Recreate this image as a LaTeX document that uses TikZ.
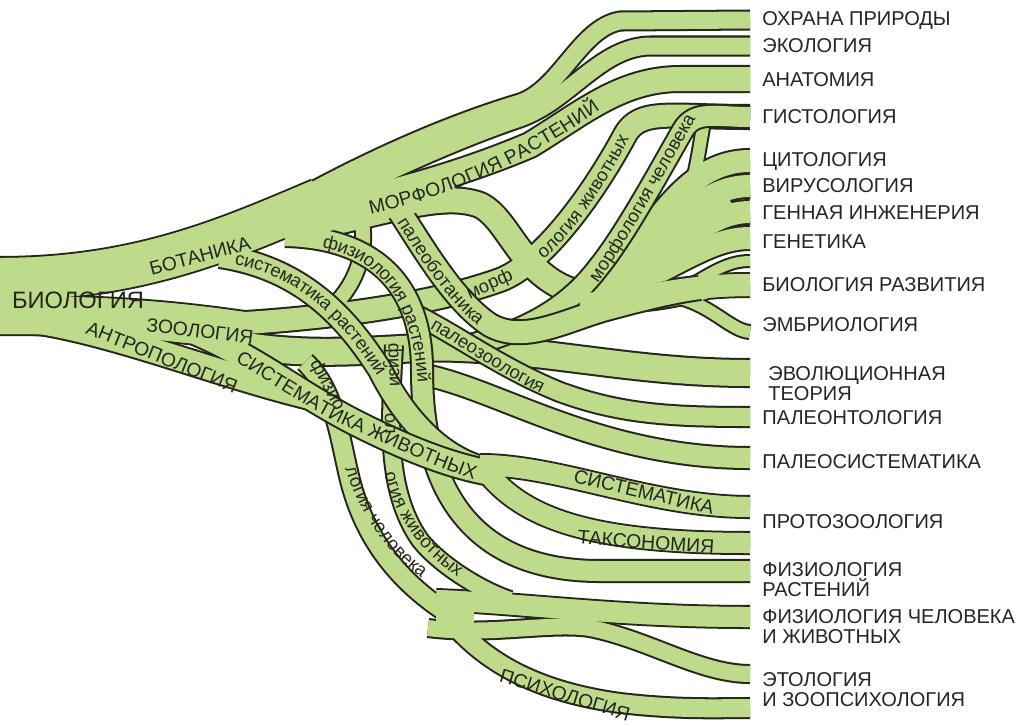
\documentclass[tikz,border=0pt]{standalone}
\usepackage{fontspec}
\setmainfont{Liberation Sans}
\usetikzlibrary{decorations.text}
\definecolor{leaf}{HTML}{BEDB8C}
\definecolor{ink}{HTML}{26261E}

\newcommand\rlab{\fontsize{11.4}{11.35}\selectfont}
\newcommand\clab{\fontsize{11}{13}\selectfont}
\newcommand\slab{\fontsize{10.5}{12}\selectfont}
\newcommand\biglab{\fontsize{13.5}{16}\selectfont}
\newdimen\rimw
% outlines of a group first, then its fills, so that the branches merge
\newcommand\grove[1]{%
  \foreach \w/\p in {#1}{\rimw=\w pt \rimw=0.56906\rimw \advance\rimw by 2.3pt
    \draw[limb, draw=ink, line width=\the\rimw] \p;}%
  \foreach \w/\p in {#1}{\rimw=\w pt \rimw=0.56906\rimw
    \draw[limb, draw=leaf, line width=\the\rimw] \p;}}
\newcommand\patch[1]{%
  \foreach \w/\p in {#1}{\rimw=\w pt \rimw=0.56906\rimw
    \draw[limb, draw=leaf, line width=\the\rimw] \p;}}

% base branches
\def\pBot{(0,279) .. controls (140,279) and (230,238) .. (320,200)}
\def\pZoo{(0,315) .. controls (100,315) and (170,320) .. (250,332)}
\def\pOhrana{(300,198) .. controls (360,165) and (440,127) .. (520,103) .. controls (560,90) and (580,28) .. (620,21) -- (750,20)}
\def\pEco{(300,214) .. controls (360,185) and (440,145) .. (520,118) .. controls (570,100) and (600,47) .. (650,46) -- (750,46)}
\def\pMorfRast{(290,214) .. controls (370,200) and (460,175) .. (530,145) .. controls (580,115) and (620,79) .. (680,79) -- (750,79)}
\def\pDescent{(290,232) .. controls (380,215) and (440,190) .. (480,205) .. controls (510,220) and (520,275) .. (575,292) .. controls (630,308) and (680,292) .. (705,287)}
\def\pArc{(362,222) .. controls (368,260) and (350,300) .. (312,322)}
\def\pMorfZh{(230,324) .. controls (330,318) and (430,305) .. (500,280) .. controls (540,265) and (590,200) .. (625,135) .. controls (640,108) and (670,117) .. (750,117)}
\def\pStalk{(706,112) .. controls (700,140) and (698,165) .. (690,190)}
\def\pZooMain{(240,345) .. controls (330,360) and (400,345) .. (460,348) .. controls (560,352) and (640,373) .. (750,373)}
\def\pMass{(615,285) .. controls (660,255) and (690,215) .. (730,200)}
\def\pCyto{(600,290) .. controls (650,240) and (680,161) .. (750,161)}
\def\pViro{(610,292) .. controls (670,230) and (700,186) .. (750,186)}
\def\pGenIn{(615,295) .. controls (680,245) and (710,212) .. (750,212)}
\def\pGenet{(600,300) .. controls (680,265) and (710,238) .. (750,238)}
\def\pDev{(580,305) .. controls (660,295) and (690,285) .. (750,285)}
\def\pDevB{(690,285) .. controls (715,270) and (730,261) .. (750,261)}
\def\pEmbryo{(670,296) .. controls (710,302) and (730,331) .. (750,332)}
\def\pPalSys{(425,375) .. controls (500,390) and (600,458) .. (750,458)}
\def\pSyst{(480,465) .. controls (560,465) and (650,507) .. (750,507)}
\def\pTaxon{(490,476) .. controls (530,522) and (600,543) .. (750,543)}
\def\pFizChel{(436,600) .. controls (520,603) and (620,617) .. (750,617)}
\def\pKnot{(436,612) -- (474,612)}
\def\pEtol{(428,628) .. controls (490,636) and (550,622) .. (590,628) .. controls (650,640) and (700,674) .. (750,674)}
\def\pPsych{(455,626) .. controls (490,665) and (540,692) .. (620,703) .. controls (680,710) and (720,708) .. (750,708)}
% branches laid over the others
\def\pMorfHum{(470,345) .. controls (530,330) and (570,305) .. (598,268) .. controls (625,235) and (660,170) .. (683,130) .. controls (695,110) and (715,117) .. (750,117)}
\def\pPaleoZoo{(410,312) .. controls (450,330) and (500,368) .. (560,392) .. controls (620,414) and (670,417) .. (750,417)}
\def\pPaleoBot{(392,200) .. controls (422,245) and (452,300) .. (490,325) .. controls (525,345) and (570,318) .. (610,308) .. controls (640,300) and (670,292) .. (700,288)}
\def\pFizRast{(285,236) .. controls (380,238) and (422,290) .. (422,370) .. controls (422,500) and (480,571) .. (600,571) -- (750,571)}
\def\pFizZh{(394,345) .. controls (390,420) and (385,490) .. (420,540) .. controls (440,565) and (480,590) .. (510,600)}
\def\pFizHum{(305,362) .. controls (335,390) and (340,440) .. (350,480) .. controls (365,540) and (400,582) .. (446,612)}
\def\pSysRast{(220,256) .. controls (300,268) and (345,315) .. (380,370) .. controls (405,420) and (445,465) .. (500,472)}
\def\pAntro{(40,322) .. controls (120,335) and (220,375) .. (310,397)}
\def\pSystZh{(195,332) .. controls (260,360) and (300,395) .. (360,425) .. controls (410,450) and (460,470) .. (505,475)}
% only filled again, to hide stubs inside a band
\def\pMorfCore{(300,222) .. controls (370,207) and (420,196) .. (455,190)}

\begin{document}
\begin{tikzpicture}[x=0.02cm, y=-0.02cm,
  limb/.style={line cap=butt, line join=round},
  lbl/.style={font=\clab, text=ink, inner sep=0pt},
  slbl/.style={font=\slab, text=ink, inner sep=0pt},
  rlbl/.style={font=\rlab, text=ink, inner sep=0pt, align=left},
  follow/.style={decorate, decoration={text along path, text align=center, raise=-3pt, text={|\slab\color{ink}|#1}}},
  followcap/.style={decorate, decoration={text along path, text align=center, raise=-3.8pt, text={|\clab\color{ink}|#1}}},
]
\fill[white] (0,0) rectangle (1025,725);
\useasboundingbox (0,0) rectangle (1025,725);

% trunk and the branches that merge with it
\grove{42/\pBot, 38/\pZoo, 17/\pOhrana, 17/\pEco, 24/\pMorfRast, 24/\pDescent,
  14/\pArc, 22/\pMorfZh, 12/\pStalk, 26/\pZooMain, 30/\pMass,
  22/\pCyto, 22/\pViro, 22/\pGenIn, 22/\pGenet, 22/\pDev, 10/\pDevB, 12/\pEmbryo,
  20/\pPalSys, 20/\pSyst, 20/\pTaxon, 20/\pFizChel, 30/\pKnot, 16/\pEtol, 18/\pPsych}

% crossing branches, lowest first
\grove{20/\pMorfHum}
\grove{18/\pPaleoZoo}
\grove{22/\pPaleoBot}
\grove{20/\pFizRast}
\grove{16/\pFizZh}
\grove{18/\pFizHum}
\grove{22/\pSysRast}
\grove{24/\pAntro, 24/\pSystZh}

% hide the stubs where branches leave or join a band
\patch{42/\pBot, 38/\pZoo, 30/\pMorfCore, 20/\pSyst, 20/\pTaxon, 20/\pFizChel, 30/\pKnot, 22/\pDev}

% labels on the branches
\node[lbl, font=\biglab] (biology) at (78,300) {БИОЛОГИЯ};
\node[lbl, rotate=15] (botany) at (200,256) {БОТАНИКА};
\node[lbl, rotate=-7] (zoology) at (200,331) {ЗООЛОГИЯ};
\node[lbl, rotate=-22] (anthropology) at (162,357) {АНТРОПОЛОГИЯ};
\node[lbl, rotate=-13] (systematics) at (644,492) {СИСТЕМАТИКА};
\node[lbl, rotate=-4] (taxonomy) at (646,542) {ТАКСОНОМИЯ};
\node[lbl, rotate=-17] (psychology) at (565,695) {ПСИХОЛОГИЯ};
\node[slbl, rotate=24] (morphA) at (490,285) {морф};
\node[slbl, rotate=-88] (physA) at (394,365) {физи};
\node[slbl, rotate=-88] (physB) at (390,424) {ол};
\node[slbl, rotate=-62] (physC) at (327,385) {физио};
\path[followcap={МОРФОЛОГИЯ РАСТЕНИЙ}] (348,212) .. controls (440,195) and (520,160) .. (614,92);
\path[followcap={СИСТЕМАТИКА ЖИВОТНЫХ}] (226,348) .. controls (280,380) and (318,408) .. (360,425) .. controls (410,448) and (450,466) .. (490,478);
\path[follow={физиология растений}] (296,240) .. controls (385,243) and (424,300) .. (424,410);
\path[follow={систематика растений}] (228,258) .. controls (300,268) and (345,315) .. (386,380);
\path[follow={палеоботаника}] (394,208) .. controls (422,252) and (452,302) .. (492,330);
\path[follow={палеозоология}] (426,320) .. controls (462,340) and (500,368) .. (550,392);
\path[follow={ология животных}] (530,262) .. controls (565,240) and (600,185) .. (630,125);
\path[follow={морфология человека}] (595,278) .. controls (625,235) and (660,170) .. (690,118);
\path[follow={огия животных}] (386,452) .. controls (392,505) and (420,550) .. (478,584);
\path[follow={логия человека}] (343,440) .. controls (356,500) and (385,552) .. (448,590);

% sciences at the tips
\node[rlbl, anchor=west] (ohrana) at (762,20) {ОХРАНА ПРИРОДЫ};
\node[rlbl, anchor=west] (ecology) at (762,46) {ЭКОЛОГИЯ};
\node[rlbl, anchor=west] (anatomy) at (762,80) {АНАТОМИЯ};
\node[rlbl, anchor=west] (histology) at (762,117) {ГИСТОЛОГИЯ};
\node[rlbl, anchor=west] (cytology) at (762,161) {ЦИТОЛОГИЯ};
\node[rlbl, anchor=west] (virology) at (762,186) {ВИРУСОЛОГИЯ};
\node[rlbl, anchor=west] (geneng) at (762,213) {ГЕННАЯ ИНЖЕНЕРИЯ};
\node[rlbl, anchor=west] (genetics) at (762,242) {ГЕНЕТИКА};
\node[rlbl, anchor=west] (devbio) at (762,285) {БИОЛОГИЯ РАЗВИТИЯ};
\node[rlbl, anchor=west] (embryology) at (762,325) {ЭМБРИОЛОГИЯ};
\node[rlbl, anchor=north west] (evolution) at (768,366) {ЭВОЛЮЦИОННАЯ\\ТЕОРИЯ};
\node[rlbl, anchor=west] (paleontology) at (762,418) {ПАЛЕОНТОЛОГИЯ};
\node[rlbl, anchor=west] (paleosyst) at (762,462) {ПАЛЕОСИСТЕМАТИКА};
\node[rlbl, anchor=west] (protozoology) at (762,522) {ПРОТОЗООЛОГИЯ};
\node[rlbl, anchor=north west] (plantphys) at (762,562) {ФИЗИОЛОГИЯ\\РАСТЕНИЙ};
\node[rlbl, anchor=north west] (humanphys) at (762,609) {ФИЗИОЛОГИЯ ЧЕЛОВЕКА\\И ЖИВОТНЫХ};
\node[rlbl, anchor=north west] (ethology) at (762,672) {ЭТОЛОГИЯ\\И ЗООПСИХОЛОГИЯ};
\end{tikzpicture}
\end{document}
